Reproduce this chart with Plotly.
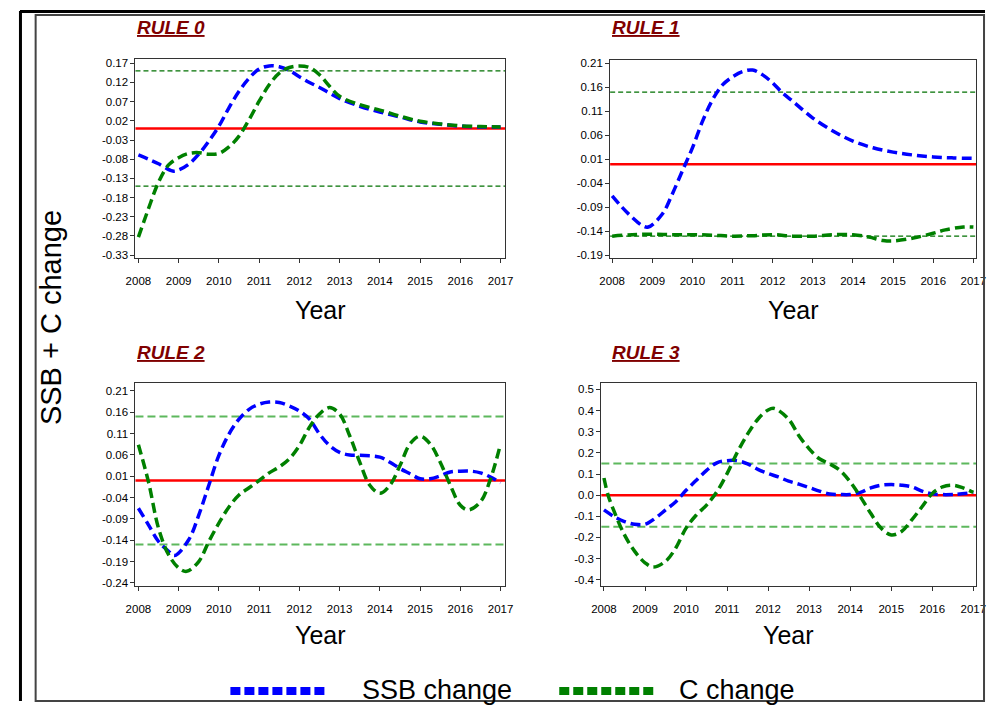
import plotly.graph_objects as go

# page body has an 8px margin: figure is sized so that it fits the 1003x713 window
PAGE_W, PAGE_H = 1003, 713
OFF = 8
W, H = PAGE_W - 2 * OFF, PAGE_H - 2 * OFF

# ---------------- data ----------------
YEAR_TICKS = [2008, 2009, 2010, 2011, 2012, 2013, 2014, 2015, 2016, 2017]
THRESH_UP = 0.15
THRESH_LO = -0.15
ZERO = 0.0

# RULE 0
r0_ssb_x = [2008, 2008.25, 2008.5, 2008.85, 2009, 2009.25, 2009.5, 2009.75, 2010, 2010.25, 2010.5, 2010.75,
            2011, 2011.25, 2011.5, 2011.75, 2012, 2012.25, 2012.5, 2012.75, 2013, 2013.5, 2014, 2014.5,
            2015, 2015.5, 2016, 2016.5, 2017]
r0_ssb = [-0.069, -0.080, -0.092, -0.111, -0.108, -0.093, -0.067, -0.033, 0.006, 0.054, 0.097, 0.131,
          0.155, 0.163, 0.161, 0.151, 0.135, 0.120, 0.107, 0.092, 0.078, 0.058, 0.043, 0.030,
          0.017, 0.011, 0.006, 0.004, 0.004]
r0_c_x = [2008, 2008.25, 2008.5, 2008.75, 2009, 2009.25, 2009.5, 2009.75, 2010, 2010.25, 2010.5, 2010.75,
          2011, 2011.25, 2011.5, 2011.75, 2012, 2012.25, 2012.5, 2012.75, 2013, 2013.5, 2014, 2014.5,
          2015, 2015.5, 2016, 2016.5, 2017]
r0_c = [-0.283, -0.209, -0.140, -0.095, -0.076, -0.065, -0.063, -0.067, -0.065, -0.048, -0.020, 0.023,
        0.071, 0.114, 0.144, 0.159, 0.163, 0.159, 0.140, 0.110, 0.084, 0.062, 0.048, 0.032,
        0.019, 0.012, 0.007, 0.005, 0.004]

# RULE 1
r1_ssb_x = [2008, 2008.25, 2008.5, 2008.75, 2008.9, 2009.25, 2009.5, 2009.75, 2010, 2010.25, 2010.5, 2010.75,
            2011, 2011.25, 2011.5, 2011.75, 2012, 2012.25, 2012.5, 2012.75, 2013, 2013.5, 2014, 2014.5,
            2015, 2015.5, 2016, 2016.5, 2017]
r1_ssb = [-0.066, -0.090, -0.111, -0.128, -0.131, -0.104, -0.062, -0.014, 0.034, 0.089, 0.134, 0.165,
          0.182, 0.193, 0.196, 0.186, 0.169, 0.148, 0.131, 0.113, 0.096, 0.069, 0.048, 0.034,
          0.025, 0.019, 0.015, 0.013, 0.012]
r1_c_x = [2008, 2008.5, 2009, 2009.5, 2010, 2010.5, 2011, 2011.5, 2012, 2012.5, 2013, 2013.5, 2014,
          2014.4, 2014.75, 2015, 2015.5, 2016, 2016.3, 2016.75, 2017]
r1_c = [-0.150, -0.147, -0.146, -0.147, -0.147, -0.148, -0.150, -0.149, -0.147, -0.150, -0.150, -0.147,
        -0.147, -0.152, -0.159, -0.160, -0.154, -0.144, -0.137, -0.131, -0.131]

# RULE 2
r2_ssb_x = [2008, 2008.25, 2008.5, 2008.75, 2008.9, 2009.25, 2009.5, 2009.75, 2010, 2010.25, 2010.5, 2010.75,
            2011, 2011.25, 2011.5, 2011.75, 2012, 2012.25, 2012.5, 2012.75, 2013, 2013.25, 2013.5, 2014,
            2014.25, 2014.5, 2014.75, 2015, 2015.25, 2015.5, 2015.75, 2016, 2016.25, 2016.5, 2016.75, 2017]
r2_ssb = [-0.065, -0.104, -0.143, -0.166, -0.176, -0.139, -0.081, -0.011, 0.059, 0.109, 0.144, 0.167,
          0.179, 0.184, 0.183, 0.175, 0.163, 0.144, 0.109, 0.082, 0.066, 0.060, 0.059, 0.055,
          0.043, 0.028, 0.016, 0.004, 0.004, 0.011, 0.020, 0.022, 0.022, 0.018, 0.008, -0.005]
r2_c_x = [2008, 2008.25, 2008.5, 2008.75, 2009, 2009.2, 2009.5, 2009.75, 2010, 2010.25, 2010.5, 2010.75,
          2011, 2011.25, 2011.5, 2011.75, 2012, 2012.25, 2012.5, 2012.75, 2013, 2013.25, 2013.5, 2013.75,
          2014, 2014.25, 2014.5, 2014.75, 2015, 2015.25, 2015.5, 2015.75, 2016, 2016.2, 2016.5, 2016.75, 2017]
r2_c = [0.084, -0.003, -0.112, -0.174, -0.205, -0.213, -0.190, -0.143, -0.100, -0.062, -0.034, -0.017,
        0.000, 0.018, 0.032, 0.051, 0.082, 0.125, 0.156, 0.171, 0.156, 0.105, 0.043, -0.011,
        -0.030, -0.011, 0.035, 0.086, 0.104, 0.086, 0.043, -0.011, -0.058, -0.069, -0.050, 0.004, 0.086]

# RULE 3
r3_ssb_x = [2008, 2008.25, 2008.5, 2008.75, 2009, 2009.25, 2009.5, 2009.75, 2010, 2010.25, 2010.5, 2010.75,
            2011, 2011.25, 2011.5, 2011.75, 2012, 2012.25, 2012.5, 2012.75, 2013, 2013.25, 2013.5, 2013.75,
            2014, 2014.25, 2014.5, 2014.75, 2015, 2015.25, 2015.5, 2015.75, 2016, 2016.5, 2017]
r3_ssb = [-0.070, -0.102, -0.125, -0.138, -0.138, -0.109, -0.070, -0.031, 0.023, 0.070, 0.117, 0.153,
          0.163, 0.163, 0.148, 0.122, 0.102, 0.086, 0.066, 0.052, 0.036, 0.019, 0.005, 0.003,
          0.003, 0.013, 0.034, 0.047, 0.050, 0.047, 0.039, 0.019, 0.006, 0.003, 0.013]
r3_c_x = [2008, 2008.1, 2008.25, 2008.5, 2008.75, 2009, 2009.2, 2009.5, 2009.75, 2010, 2010.25, 2010.5,
          2010.75, 2011, 2011.25, 2011.5, 2011.75, 2012, 2012.15, 2012.5, 2012.75, 2013, 2013.25, 2013.5,
          2013.75, 2014, 2014.25, 2014.5, 2014.75, 2015, 2015.25, 2015.5, 2015.75, 2016, 2016.25, 2016.5,
          2016.75, 2017]
r3_c = [0.081, 0.000, -0.078, -0.188, -0.266, -0.320, -0.340, -0.313, -0.250, -0.156, -0.094, -0.047,
        0.016, 0.102, 0.203, 0.289, 0.359, 0.403, 0.410, 0.359, 0.281, 0.219, 0.172, 0.148,
        0.117, 0.063, -0.008, -0.086, -0.156, -0.188, -0.172, -0.117, -0.055, 0.008, 0.039, 0.047,
        0.034, 0.013]

r0_yticks = [0.17, 0.12, 0.07, 0.02, -0.03, -0.08, -0.13, -0.18, -0.23, -0.28, -0.33]
r1_yticks = [0.21, 0.16, 0.11, 0.06, 0.01, -0.04, -0.09, -0.14, -0.19]
r2_yticks = [0.21, 0.16, 0.11, 0.06, 0.01, -0.04, -0.09, -0.14, -0.19, -0.24]
r3_yticks = [0.5, 0.4, 0.3, 0.2, 0.1, 0.0, -0.1, -0.2, -0.3, -0.4]

panels = [
    dict(title="RULE 0", ssb_x=r0_ssb_x, ssb=r0_ssb, c_x=r0_c_x, c=r0_c, yt=r0_yticks, fmt="{:.2f}",
         px=(127, 505), py=(57, 258), xr=(2007.927, 2017.12), yr=(-0.338, 0.182), tx=127,
         th_color="#007000", th_w=1.3, th_dash="5px,3px"),
    dict(title="RULE 1", ssb_x=r1_ssb_x, ssb=r1_ssb, c_x=r1_c_x, c=r1_c, yt=r1_yticks, fmt="{:.2f}",
         px=(612, 986), py=(58, 258), xr=(2007.95, 2017.07), yr=(-0.196, 0.2177), tx=612,
         th_color="#007000", th_w=1.3, th_dash="5px,3px"),
    dict(title="RULE 2", ssb_x=r2_ssb_x, ssb=r2_ssb, c_x=r2_c_x, c=r2_c, yt=r2_yticks, fmt="{:.2f}",
         px=(127, 505), py=(384, 588), xr=(2007.927, 2017.12), yr=(-0.247, 0.228), tx=127,
         th_color="#5DB85D", th_w=2, th_dash="8px,4px"),
    dict(title="RULE 3", ssb_x=r3_ssb_x, ssb=r3_ssb, c_x=r3_c_x, c=r3_c, yt=r3_yticks, fmt="{:.1f}",
         px=(603, 986), py=(384, 588), xr=(2007.936, 2017.07), yr=(-0.429, 0.529), tx=612,
         th_color="#5DB85D", th_w=2, th_dash="8px,4px"),
]

BLUE = "#0000FF"
GREEN = "#008000"
FONT = "Liberation Sans, Arial, sans-serif"


def fx(x):
    # window pixel -> paper fraction
    return (x - OFF) / W


def fy(y):
    return 1 - (y - OFF) / H


fig = go.Figure()
annotations = []
shapes = []

for i, p in enumerate(panels):
    n = "" if i == 0 else str(i + 1)
    xa, ya = "x" + n, "y" + n
    fig.add_trace(go.Scatter(x=p["ssb_x"], y=p["ssb"], mode="lines", name="SSB change",
                             line=dict(color=BLUE, width=3.5, dash="10px,5px", shape="spline", smoothing=1),
                             xaxis=xa, yaxis=ya, showlegend=False))
    fig.add_trace(go.Scatter(x=p["c_x"], y=p["c"], mode="lines", name="C change",
                             line=dict(color=GREEN, width=3.5, dash="10px,5px", shape="spline", smoothing=1),
                             xaxis=xa, yaxis=ya, showlegend=False))
    for val in (THRESH_UP, THRESH_LO):
        shapes.append(dict(type="line", xref=xa + " domain", yref=ya, x0=0, x1=1, y0=val, y1=val,
                           line=dict(color=p["th_color"], width=p["th_w"], dash=p["th_dash"]), layer="below"))
    shapes.append(dict(type="line", xref=xa + " domain", yref=ya, x0=0, x1=1, y0=ZERO, y1=ZERO,
                       line=dict(color="#FF0000", width=2.5), layer="below"))

    axis_common = dict(showline=True, mirror=True, linecolor="#333333", linewidth=1, ticks="outside",
                       ticklen=4, tickcolor="#333333", showgrid=False, zeroline=False,
                       tickfont=dict(family=FONT, size=11.5, color="black"))
    fig.layout["xaxis" + n] = dict(domain=[fx(p["px"][0]), fx(p["px"][1])], range=list(p["xr"]),
                                   anchor=ya, tickvals=YEAR_TICKS, ticktext=[str(t) for t in YEAR_TICKS],
                                   ticklabelstandoff=8, **axis_common)
    fig.layout["yaxis" + n] = dict(domain=[fy(p["py"][1]), fy(p["py"][0])], range=list(p["yr"]),
                                   anchor=xa, tickvals=p["yt"], ticktext=[p["fmt"].format(v) for v in p["yt"]],
                                   **axis_common)
    annotations.append(dict(text="<b><i><u>" + p["title"] + "</u></i></b>", x=fx(p["tx"]),
                            y=fy(26 if i < 2 else 353), xref="paper", yref="paper", xanchor="left",
                            yanchor="middle", showarrow=False, font=dict(family=FONT, size=19, color="#800000")))
    annotations.append(dict(text="Year", x=fx((p["px"][0] + p["px"][1]) / 2),
                            y=fy(310 if i < 2 else 638), xref="paper", yref="paper",
                            xanchor="center", yanchor="middle", showarrow=False,
                            font=dict(family=FONT, size=25, color="black")))

annotations.append(dict(text="SSB + C change", x=fx(40), y=fy(318), xref="paper", yref="paper",
                        textangle=-90, showarrow=False, xanchor="center", yanchor="middle",
                        font=dict(family=FONT, size=29, color="black")))

legend_items = [("SSB change", BLUE, 224, 322, 356), ("C change", GREEN, 560, 658, 680)]
for label, col, x0, x1, tx in legend_items:
    shapes.append(dict(type="line", xref="paper", yref="paper", x0=fx(x0), x1=fx(x1), y0=fy(694), y1=fy(694),
                       line=dict(color=col, width=8, dash="10px,4px")))
    annotations.append(dict(text=label, x=fx(tx), y=fy(693), xref="paper", yref="paper", xanchor="left",
                            yanchor="middle", showarrow=False, font=dict(family=FONT, size=27, color="black")))

shapes.append(dict(type="rect", xref="paper", yref="paper", x0=fx(25), x1=fx(994), y0=fy(704), y1=fy(13),
                   line=dict(color="#444444", width=2)))
shapes.append(dict(type="line", xref="paper", yref="paper", x0=fx(9), x1=fx(995), y0=fy(9.5), y1=fy(9.5),
                   line=dict(color="black", width=3)))
shapes.append(dict(type="line", xref="paper", yref="paper", x0=fx(9.5), x1=fx(9.5), y0=fy(9), y1=fy(704),
                   line=dict(color="black", width=3)))

fig.update_layout(width=W, height=H, margin=dict(l=0, r=0, t=0, b=0), paper_bgcolor="white",
                  plot_bgcolor="white", showlegend=False, annotations=annotations, shapes=shapes,
                  font=dict(family=FONT))

fig.write_html("out.html")
